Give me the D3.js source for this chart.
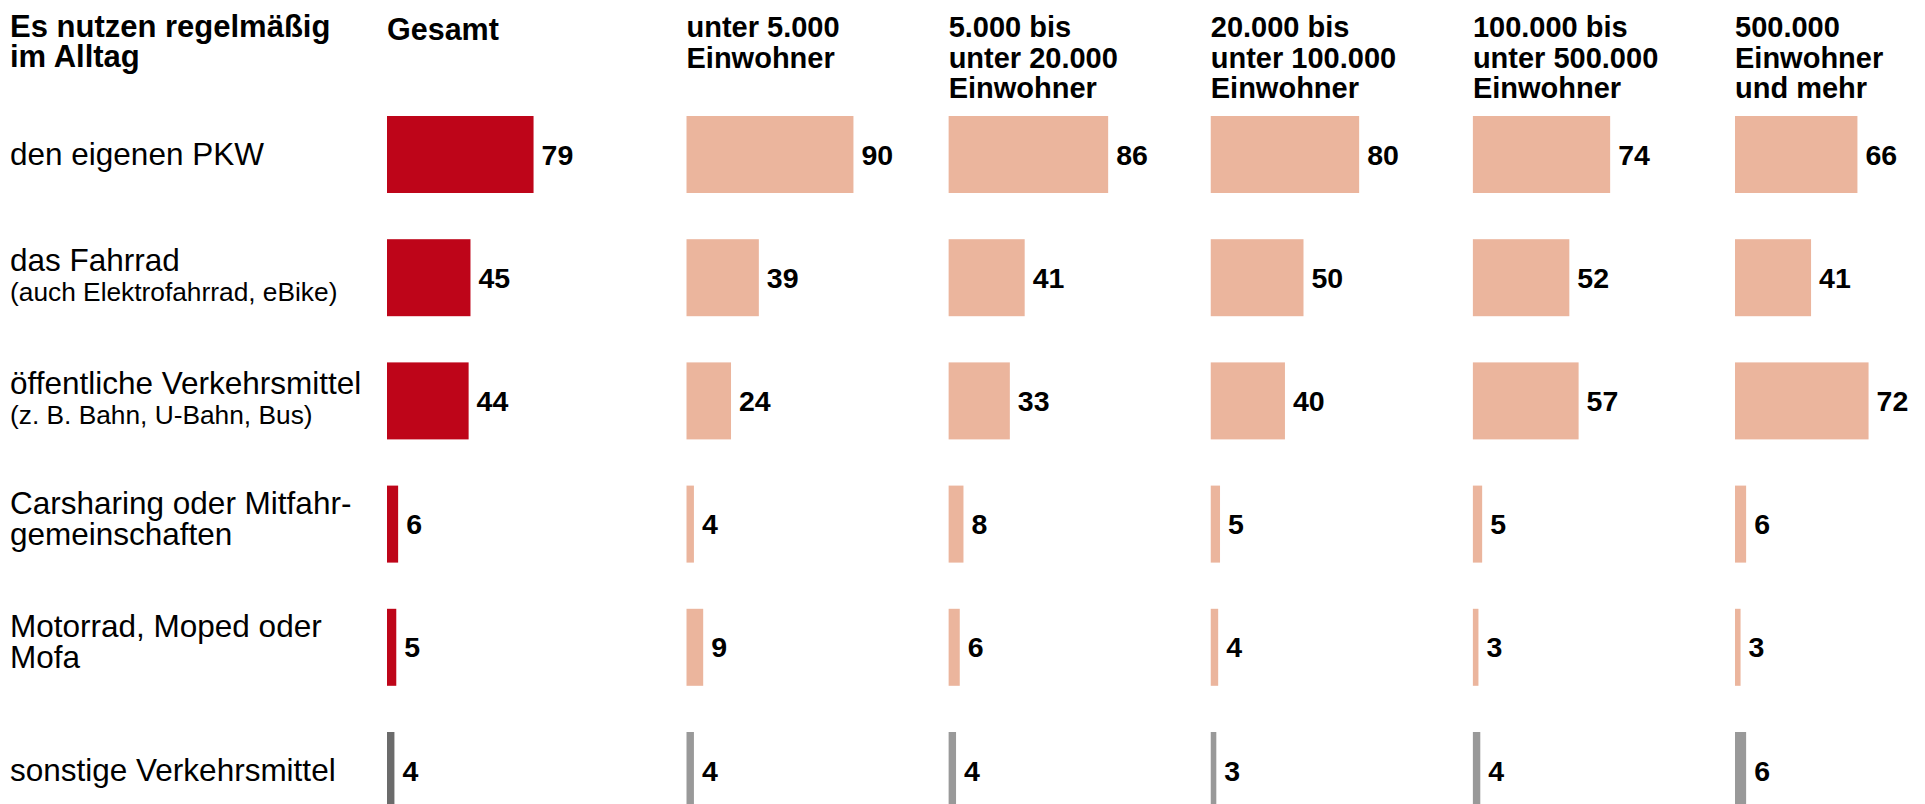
<!DOCTYPE html>
<html lang="de">
<head>
<meta charset="utf-8">
<title>Verkehrsmittelnutzung im Alltag nach Gemeindegröße</title>
<script src="https://cdn.jsdelivr.net/npm/d3@7/dist/d3.min.js"></script>
<style>
  html, body { margin: 0; padding: 0; background: #fff; }
  svg { display: block; font-family: "Liberation Sans", Arial, Helvetica, sans-serif; }
</style>
</head>
<body>
<svg id="chart" width="1925" height="804"></svg>
<script>
// Verkehrsmittel (Zeilen)
const categories = [
  "den eigenen PKW",
  "das Fahrrad",
  "öffentliche Verkehrsmittel",
  "Carsharing oder Mitfahrgemeinschaften",
  "Motorrad, Moped oder Mofa",
  "sonstige Verkehrsmittel"
];
const categoryLines = [
  ["den eigenen PKW"],
  ["das Fahrrad"],
  ["öffentliche Verkehrsmittel"],
  ["Carsharing oder Mitfahr-", "gemeinschaften"],
  ["Motorrad, Moped oder", "Mofa"],
  ["sonstige Verkehrsmittel"]
];
const categoryNotes = ["", "(auch Elektrofahrrad, eBike)", "(z. B. Bahn, U-Bahn, Bus)", "", "", ""];

// Spalten: Gesamt und Gemeindegrößenklassen
const columns = ["Gesamt", "u5k", "5k-20k", "20k-100k", "100k-500k", "500k+"];
const columnHeaders = [
  ["Gesamt"],
  ["unter 5.000", "Einwohner"],
  ["5.000 bis", "unter 20.000", "Einwohner"],
  ["20.000 bis", "unter 100.000", "Einwohner"],
  ["100.000 bis", "unter 500.000", "Einwohner"],
  ["500.000", "Einwohner", "und mehr"]
];
const titleLines = ["Es nutzen regelmäßig", "im Alltag"];

// Anteile in Prozent, je Spalte in Reihenfolge der Verkehrsmittel
const gesamt      = [79, 45, 44, 6, 5, 4];
const unter5000   = [90, 39, 24, 4, 9, 4];
const bis20000    = [86, 41, 33, 8, 6, 4];
const bis100000   = [80, 50, 40, 5, 4, 3];
const bis500000   = [74, 52, 57, 5, 3, 4];
const ab500000    = [66, 41, 72, 6, 3, 6];
const seriesValues = [gesamt, unter5000, bis20000, bis100000, bis500000, ab500000];

const svg = d3.select("#chart");

// Skalen
const x = d3.scaleLinear().domain([0, 100]).range([0, 185.5]);
const groupX = d3.scalePoint().domain(columns.slice(1)).range([686.5, 1735]);
const colX = c => (c === "Gesamt" ? 387 : groupX(c));
const y = d3.scaleBand().domain(categories).range([116, 809]).paddingInner(0.375).paddingOuter(0);

const colorFor = (col, cat) => {
  if (cat === "sonstige Verkehrsmittel") return col === "Gesamt" ? "#6b6b6b" : "#999999";
  return col === "Gesamt" ? "#be0519" : "#ebb59d";
};

// Titel
svg.append("text")
  .attr("x", 10).attr("y", 36.5)
  .attr("font-size", 31).attr("font-weight", "bold").attr("fill", "#000")
  .selectAll("tspan").data(titleLines).join("tspan")
  .attr("x", 10).attr("dy", (d, i) => i === 0 ? 0 : 30.5)
  .text(d => d);

// Spaltenköpfe
columns.forEach((c, ci) => {
  svg.append("text")
    .attr("x", colX(c)).attr("y", c === "Gesamt" ? 40 : 37)
    .attr("font-size", c === "Gesamt" ? 30.5 : 29).attr("font-weight", "bold").attr("fill", "#000")
    .selectAll("tspan").data(columnHeaders[ci]).join("tspan")
    .attr("x", colX(c)).attr("dy", (d, i) => i === 0 ? 0 : 30.5)
    .text(d => d);
});

// Zeilenbeschriftungen
categories.forEach((cat, ri) => {
  const cy = y(cat) + y.bandwidth() / 2;
  const lines = categoryLines[ri];
  const note = categoryNotes[ri];
  let firstBaseline;
  if (note) firstBaseline = cy - 6.5;
  else if (lines.length === 2) firstBaseline = cy - 10.5;
  else firstBaseline = cy + 10.5;
  const t = svg.append("text")
    .attr("x", 10).attr("y", firstBaseline)
    .attr("font-size", 31.5).attr("fill", "#000");
  t.selectAll("tspan").data(lines).join("tspan")
    .attr("x", 10).attr("dy", (d, i) => i === 0 ? 0 : 31.5)
    .text(d => d);
  if (note) {
    svg.append("text")
      .attr("x", 10).attr("y", cy + 23)
      .attr("font-size", 26.3).attr("fill", "#000")
      .text(note);
  }
});

// Balken und Werte
columns.forEach((c, ci) => {
  const g = svg.append("g").attr("transform", `translate(${colX(c)},0)`);
  const rows = categories.map((cat, ri) => ({ cat, v: seriesValues[ci][ri] }));
  g.selectAll("rect").data(rows).join("rect")
    .attr("x", 0)
    .attr("y", d => y(d.cat))
    .attr("width", d => x(d.v))
    .attr("height", y.bandwidth())
    .attr("fill", d => colorFor(c, d.cat));
  g.selectAll("text.val").data(rows).join("text")
    .attr("class", "val")
    .attr("x", d => x(d.v) + 8)
    .attr("y", d => y(d.cat) + y.bandwidth() / 2 + 10)
    .attr("font-size", 28.5).attr("font-weight", "bold").attr("fill", "#000")
    .text(d => d.v);
});
</script>
</body>
</html>
